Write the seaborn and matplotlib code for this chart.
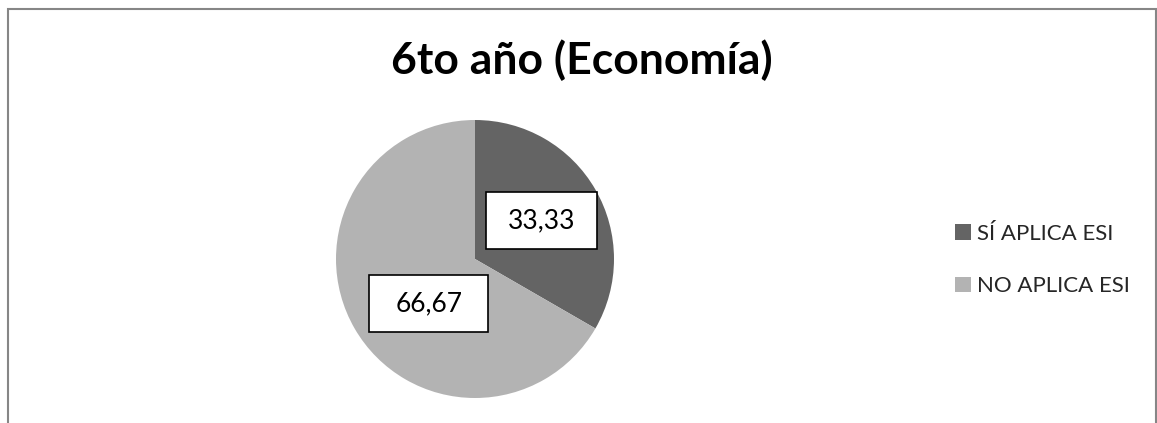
import matplotlib.pyplot as plt
import seaborn as sns
import numpy as np
from matplotlib.patches import Rectangle

# data
categories = ['SÍ APLICA ESI', 'NO APLICA ESI']
values = [33.33, 66.67]
value_labels = ['33,33', '66,67']
title = '6to año (Economía)'

colors = ['#646464', '#b3b3b3']

W, H = 1157, 423

def main():
    sns.set_theme(style='white')
    plt.rcParams['font.family'] = ['Lato', 'DejaVu Sans']

    fig = plt.figure(figsize=(W / 100, H / 100), dpi=100)
    fig.patch.set_facecolor('white')

    # pie axes: centre (475, 259) px, radius ~139 px
    cx, cy, r = 475, 259, 140
    ax = fig.add_axes([(cx - r) / W, (H - cy - r) / H, 2 * r / W, 2 * r / H])
    wedges, _ = ax.pie(values, colors=colors, startangle=90, counterclock=False,
                       radius=139 / 140, wedgeprops=dict(linewidth=0))
    ax.set_xlim(-1, 1)
    ax.set_ylim(-1, 1)
    ax.set_aspect('equal')
    ax.axis('off')

    # value labels in white boxes
    label_r = [0.55, 0.46]
    label_shift = [0, 14]
    box_w = [111 / 140, 119 / 140]
    box_h = 57 / 140
    for w, lab, lr, sh, bw in zip(wedges, value_labels, label_r, label_shift, box_w):
        mid = np.deg2rad((w.theta1 + w.theta2) / 2 + sh)
        x, y = lr * np.cos(mid), lr * np.sin(mid)
        ax.add_patch(Rectangle((x - bw / 2, y - box_h / 2), bw, box_h,
                               facecolor='white', edgecolor='black', linewidth=1.2,
                               zorder=3))
        ax.text(x, y, lab, ha='center', va='center', fontsize=19, color='black',
                zorder=4)

    fig.text(582 / W, (H - 74) / H, title, ha='center', va='baseline',
             fontsize=32, fontweight='bold', color='black')

    leg = fig.legend(wedges, categories, loc='center left',
                     bbox_to_anchor=(944 / W, (H - 260) / H), frameon=False,
                     fontsize=16, handlelength=0.7, handleheight=0.7,
                     handletextpad=0.3, labelspacing=1.45, borderpad=0)

    # chart-area border (bottom edge cut off)
    fig.add_artist(Rectangle((7.5 / W, -0.1), (1156 - 7.5) / W, 1.1 - 9.5 / H,
                             transform=fig.transFigure, fill=False,
                             edgecolor='#868686', linewidth=1.5))

    fig.savefig('out.png', dpi=100, facecolor='white')

if __name__ == '__main__':
    main()
